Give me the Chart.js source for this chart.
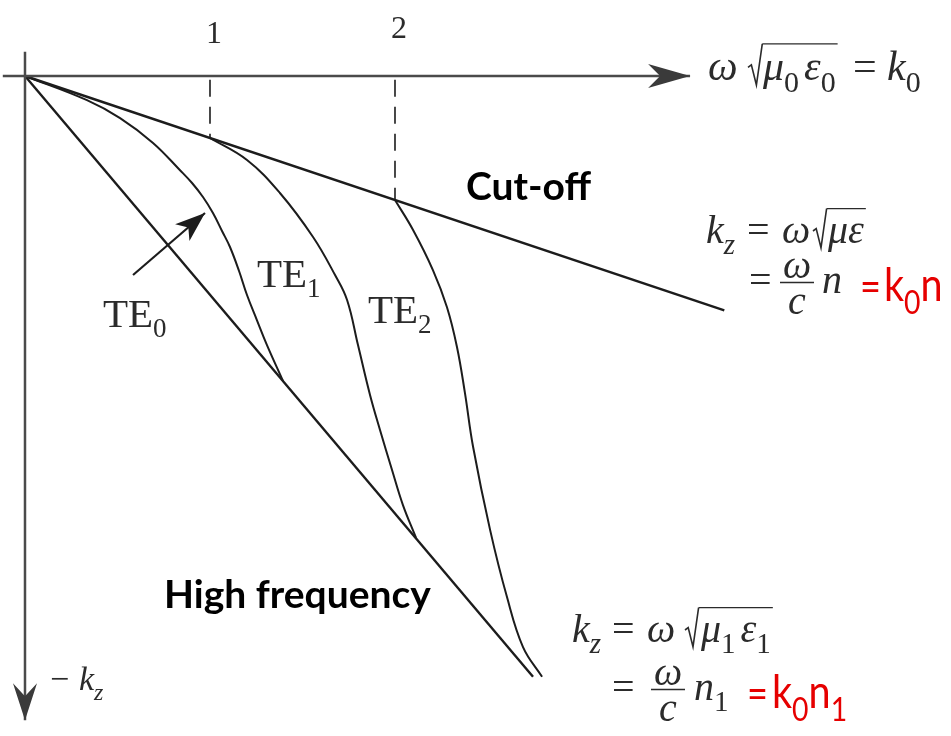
<!DOCTYPE html>
<html lang="en">
<head>
<meta charset="utf-8">
<title>Modos TE - relacion de dispersion</title>
<script src="https://cdn.jsdelivr.net/npm/chart.js@4.4.1/dist/chart.umd.min.js"></script>
<style>
    html, body { margin: 0; padding: 0; background: #ffffff; }
    #grafica { display: block; }
</style>
</head>
<body>
<canvas id="grafica" width="951" height="736"></canvas>
<script>
"use strict";

/**
 * Datos: eje x = omega (normalizado), eje y = -kz (normalizado, hacia abajo)
 */
const tickValues = [1, 2];
const tickLabels = ["1", "2"];

const xAxisRange = [-0.12, 3.595];
const yAxisRange = [-0.39, 10.39];

// linea de corte kz = k0 n y linea de alta frecuencia kz = k0 n1
const cutoffX = [0, 3.78];
const cutoffY = [0, 3.78];
const highFreqX = [0, 2.746];
const highFreqY = [0, 9.69];

// curvas de los modos
const te0X = [0, 0.335, 0.514, 0.692, 0.838, 0.903, 0.962, 1.016, 1.065, 1.108, 1.157, 1.2, 1.254, 1.308, 1.395];
const te0Y = [0, 0.39, 0.68, 1.08, 1.52, 1.726, 1.952, 2.21, 2.5, 2.758, 3.145, 3.532, 3.94, 4.34, 4.92];
const te1X = [1, 1.2, 1.378, 1.557, 1.676, 1.741, 1.8, 1.865, 1.919, 1.984, 2.043, 2.114];
const te1Y = [1, 1.355, 1.887, 2.597, 3.21, 3.613, 4.34, 5.145, 5.71, 6.355, 6.92, 7.45];
const te2X = [2, 2.097, 2.205, 2.281, 2.335, 2.378, 2.422, 2.514, 2.605, 2.692, 2.795];
const te2Y = [2, 2.48, 3.13, 3.73, 4.37, 5.11, 5.98, 7.32, 8.4, 9.21, 9.69];

// flecha que senala TE0 (cola -> punta)
const pointerX = [0.584, 0.973];
const pointerY = [3.21, 2.21];

const modeNames = ["TE", "TE", "TE"];
const modeIndex = ["0", "1", "2"];

document.addEventListener("DOMContentLoaded", () => {
    const grafica = document.querySelector("#grafica");

    const SERIF = '"Liberation Serif", "DejaVu Serif", serif';
    const SANS = 'Lato, "Open Sans", sans-serif';
    const INK = "#2b2b2b";
    const RED = "#e60000";

    const toPoints = (xs, ys) => xs.map((x, i) => ({ x: x, y: ys[i] }));

    const linea = (data, extra) =>
        Object.assign(
            {
                data: data,
                showLine: true,
                borderColor: "#1c1c1c",
                borderWidth: 2,
                pointRadius: 0,
                fill: false,
            },
            extra || {}
        );

    const curva = { tension: 0.4 };

    const datasets = [
        linea(toPoints(xAxisRange, [0, 0]), { borderColor: "#4a4a4a", borderWidth: 2.5 }),
        linea(toPoints([0, 0], yAxisRange), { borderColor: "#4a4a4a", borderWidth: 2.5 }),
        linea(toPoints(cutoffX, cutoffY), { borderWidth: 2.4 }),
        linea(toPoints(highFreqX, highFreqY), { borderWidth: 2.4 }),
        linea(toPoints(te0X, te0Y), curva),
        linea(toPoints(te1X, te1Y), curva),
        linea(toPoints(te2X, te2Y), curva),
        linea(toPoints([tickValues[0], tickValues[0]], [0.06, cutoffY[0] + tickValues[0]]), {
            borderDash: [17, 10],
            borderWidth: 1.6,
        }),
        linea(toPoints([tickValues[1], tickValues[1]], [0.06, cutoffY[0] + tickValues[1]]), {
            borderDash: [17, 10],
            borderWidth: 1.6,
        }),
        linea(toPoints(pointerX, pointerY), { borderWidth: 2.2 }),
    ];

    /**
     * Punta de flecha con la base entrante
     */
    function puntaFlecha(ctx, tx, ty, fx, fy, largo, medio, muesca) {
        const ang = Math.atan2(ty - fy, tx - fx);
        const dx = Math.cos(ang);
        const dy = Math.sin(ang);
        const bx = tx - largo * dx;
        const by = ty - largo * dy;
        ctx.beginPath();
        ctx.moveTo(tx, ty);
        ctx.lineTo(bx - medio * dy, by + medio * dx);
        ctx.lineTo(tx - (largo - muesca) * dx, ty - (largo - muesca) * dy);
        ctx.lineTo(bx + medio * dy, by - medio * dx);
        ctx.closePath();
        ctx.fill();
    }

    /**
     * Texto matematico: piezas con posicion (at), hueco (gap), cursiva,
     * subindice, raiz, color y estrechamiento horizontal (sq)
     */
    function formula(ctx, y, piezas, size) {
        let cx = 0;
        let barra = null;
        piezas.forEach((p) => {
            if (p.at !== undefined) cx = p.at;
            if (p.gap) cx += p.gap;
            if (p.raiz) {
                const s = size;
                ctx.save();
                ctx.strokeStyle = INK;
                ctx.lineWidth = 1.6;
                ctx.beginPath();
                ctx.moveTo(cx, y - 0.3 * s);
                ctx.lineTo(cx + 0.08 * s, y - 0.36 * s);
                ctx.lineTo(cx + 0.2 * s, y + 0.12 * s);
                ctx.lineTo(cx + 0.34 * s, y - 0.86 * s);
                ctx.stroke();
                ctx.restore();
                barra = { x0: cx + 0.34 * s, y: y - 0.86 * s };
                cx += 0.37 * s;
                return;
            }
            if (!p.t) return;
            const fs = p.size || (p.sub ? Math.round(size * 0.72) : size);
            const fam = p.sans ? SANS : SERIF;
            const sq = p.sq || 1;
            ctx.font = (p.it ? "italic " : "") + fs + "px " + fam;
            ctx.fillStyle = p.red ? RED : INK;
            const yy = p.sub ? y + size * 0.28 : y;
            ctx.save();
            ctx.translate(cx, yy);
            ctx.scale(sq, 1);
            ctx.fillText(p.t, 0, 0);
            ctx.restore();
            cx += ctx.measureText(p.t).width * sq;
            if (barra && p.fin) {
                ctx.save();
                ctx.strokeStyle = INK;
                ctx.lineWidth = 1.4;
                ctx.beginPath();
                ctx.moveTo(barra.x0, barra.y);
                ctx.lineTo(cx + 2, barra.y);
                ctx.stroke();
                ctx.restore();
                barra = null;
            }
        });
    }

    function fraccion(ctx, cx, y, size) {
        ctx.font = "italic " + size + "px " + SERIF;
        ctx.fillStyle = INK;
        ctx.textAlign = "center";
        ctx.fillText("\u03c9", cx, y - 0.38 * size);
        ctx.fillText("c", cx, y + 0.52 * size);
        ctx.textAlign = "left";
        ctx.strokeStyle = INK;
        ctx.lineWidth = 1.5;
        ctx.beginPath();
        ctx.moveTo(cx - 17, y - 0.26 * size);
        ctx.lineTo(cx + 17, y - 0.26 * size);
        ctx.stroke();
    }

    const rojo = (t, extra) => Object.assign({ t: t, sans: true, red: true, sq: 0.86 }, extra || {});

    const anotaciones = {
        id: "anotaciones",
        afterDatasetsDraw(chart) {
            const { ctx } = chart;
            const sx = chart.scales.x;
            const sy = chart.scales.y;
            const px = (v) => sx.getPixelForValue(v);
            const py = (v) => sy.getPixelForValue(v);

            ctx.save();
            ctx.textBaseline = "alphabetic";

            // puntas de los ejes
            ctx.fillStyle = "#3a3a3a";
            puntaFlecha(ctx, px(xAxisRange[1]), py(0), px(0), py(0), 42, 12, 12);
            puntaFlecha(ctx, px(0), py(yAxisRange[1]), px(0), py(0), 37, 12, 13);

            // punta de la flecha de TE0
            ctx.fillStyle = "#1c1c1c";
            puntaFlecha(ctx, px(pointerX[1]), py(pointerY[1]), px(pointerX[0]), py(pointerY[0]), 30, 11, 8);

            // etiquetas 1 y 2 sobre el eje
            ctx.font = "32px " + SERIF;
            ctx.fillStyle = INK;
            ctx.textAlign = "center";
            ctx.fillText(tickLabels[0], px(tickValues[0]) + 4, 43);
            ctx.fillText(tickLabels[1], px(tickValues[1]) + 4, 38);
            ctx.textAlign = "left";

            // nombres de los modos
            const posModos = [
                [103, 327],
                [257, 287],
                [368, 323],
            ];
            modeNames.forEach((nombre, i) => {
                const [mx, my] = posModos[i];
                ctx.font = "41px " + SERIF;
                ctx.fillStyle = INK;
                ctx.fillText(nombre, mx, my);
                const w = ctx.measureText(nombre).width;
                ctx.font = "27px " + SERIF;
                ctx.fillText(modeIndex[i], mx + w, my + 10);
            });

            // omega sqrt(mu0 eps0) = k0
            formula(ctx, 80, [
                { at: 708, t: "\u03c9", it: true },
                { at: 748, raiz: true },
                { at: 763, t: "\u03bc", it: true }, { t: "0", sub: true },
                { gap: 5, t: "\u03b5", it: true }, { t: "0", sub: true, fin: true },
                { at: 853, t: "=" },
                { at: 887, t: "k", it: true }, { t: "0", sub: true },
            ], 42);

            // kz = omega sqrt(mu eps) = omega/c n = k0 n
            formula(ctx, 243, [
                { at: 706, t: "k", it: true }, { t: "z", it: true, sub: true },
                { at: 747, t: "=" },
                { at: 782, t: "\u03c9", it: true },
                { at: 813, raiz: true },
                { at: 828, t: "\u03bc\u03b5", it: true, fin: true },
            ], 40);
            formula(ctx, 293, [{ at: 749, t: "=" }, { at: 822, t: "n", it: true }], 40);
            fraccion(ctx, 797, 293, 40);
            formula(ctx, 301, [
                rojo("=", { at: 860, size: 42 }),
                rojo("k", { at: 884 }),
                rojo("0", { sub: true }),
                rojo("n"),
            ], 46);

            // kz = omega sqrt(mu1 eps1) = omega/c n1 = k0 n1
            formula(ctx, 642, [
                { at: 572, t: "k", it: true }, { t: "z", it: true, sub: true },
                { at: 612, t: "=" },
                { at: 647, t: "\u03c9", it: true },
                { at: 685, raiz: true },
                { at: 701, t: "\u03bc", it: true }, { t: "1", sub: true },
                { gap: 5, t: "\u03b5", it: true }, { t: "1", sub: true, fin: true },
            ], 40);
            formula(ctx, 700, [
                { at: 612, t: "=" },
                { at: 694, t: "n", it: true }, { t: "1", sub: true },
            ], 40);
            fraccion(ctx, 668, 700, 40);
            formula(ctx, 708, [
                rojo("=", { at: 747, size: 42 }),
                rojo("k", { at: 772 }),
                rojo("0", { sub: true }),
                rojo("n"),
                rojo("1", { sub: true }),
            ], 46);

            // -kz junto al eje vertical
            formula(ctx, 690, [
                { at: 50, t: "\u2212" },
                { at: 79, t: "k", it: true }, { t: "z", it: true, sub: true },
            ], 34);

            // rotulos en negrita
            ctx.font = "bold 39px " + SANS;
            ctx.fillStyle = "#000000";
            ctx.fillText("Cut-off", 466, 200);
            ctx.fillText("High frequency", 164, 608);

            ctx.restore();
        },
    };

    new Chart(grafica, {
        type: "scatter",
        data: { datasets: datasets },
        options: {
            responsive: false,
            animation: false,
            layout: { padding: 0 },
            plugins: {
                legend: { display: false },
                tooltip: { enabled: false },
            },
            scales: {
                x: { type: "linear", display: false, min: -0.1351, max: 5.0054 },
                y: { type: "linear", display: false, reverse: true, min: -1.2258, max: 10.645 },
            },
        },
        plugins: [anotaciones],
    });
});
</script>
</body>
</html>
